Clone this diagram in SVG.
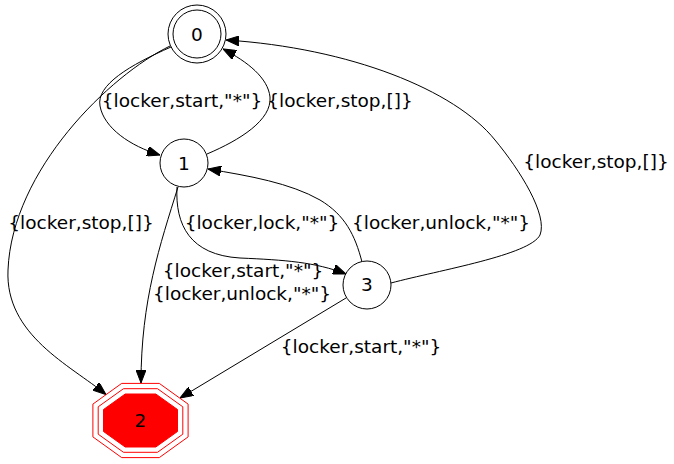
<svg xmlns="http://www.w3.org/2000/svg" width="674" height="464" viewBox="0 0 674 464">
<defs>
<style>
text{font-family:"DejaVu Sans","Liberation Sans",sans-serif;font-size:18.5px;fill:#000;text-anchor:middle}
.n{fill:#fff;stroke:#000;stroke-width:1}
.e{fill:none;stroke:#000;stroke-width:1}
.oct{fill:none;stroke:#ff0000;stroke-width:1}
</style>
<marker id="ah" viewBox="0 0 13 10" refX="13" refY="5" markerWidth="13" markerHeight="10" markerUnits="userSpaceOnUse" orient="auto">
<path d="M0,0 L13,5 L0,10 z" fill="#000" stroke="#000" stroke-width="1"/>
</marker>
</defs>
<rect width="674" height="464" fill="#fff"/>
<g id="edges">
<path class="e" marker-end="url(#ah)" d="M171,47 C130,65 96,85 100,106 C104,128 130,146 160,155"/>
<path class="e" marker-end="url(#ah)" d="M170,46 C110,75 12,170 8,270 C5,335 70,365 106,394.5"/>
<path class="e" marker-end="url(#ah)" d="M207,154 C240,140 272,120 270,97 C268,78 248,62 223,49"/>
<path class="e" marker-end="url(#ah)" d="M177,187 C175,225 190,255 240,258 C285,260 315,262 346,274"/>
<path class="e" marker-end="url(#ah)" d="M362,262 C355,235 345,215 320,200 C290,183 250,176 208,169"/>
<path class="e" marker-end="url(#ah)" d="M391,283 C440,270 530,255 540,235 C548,215 520,170 495,140 C455,90 350,48 226,40"/>
<path class="e" marker-end="url(#ah)" d="M178,187 C160,245 141,300 141,383"/>
<path class="e" marker-end="url(#ah)" d="M346,298 L180,398"/>
<text x="182" y="107">{locker,start,"*"}</text>
<text x="340" y="107">{locker,stop,[]}</text>
<text x="81" y="229">{locker,stop,[]}</text>
<text x="262" y="229">{locker,lock,"*"}</text>
<text x="441" y="229">{locker,unlock,"*"}</text>
<text x="596" y="168">{locker,stop,[]}</text>
<text x="243" y="277">{locker,start,"*"}</text>
<text x="242" y="300">{locker,unlock,"*"}</text>
<text x="361" y="353">{locker,start,"*"}</text>
</g>
<g id="node0">
<circle class="n" cx="197" cy="34" r="29"/>
<circle class="n" cx="197" cy="34" r="24"/>
<text x="197" y="41">0</text>
</g>
<g id="node1">
<circle class="n" cx="184" cy="163" r="24"/>
<text x="184" y="170">1</text>
</g>
<g id="node3">
<circle class="n" cx="367" cy="285" r="24"/>
<text x="367" y="291">3</text>
</g>
<g id="node2">
<polygon class="oct" points="188.1,436.9 159.3,457.6 121.7,457.6 92.9,436.9 92.9,404.1 121.7,383.4 159.3,383.4 188.1,404.1"/>
<polygon class="oct" points="182.8,434.2 157.5,452.3 123.5,452.3 98.2,434.2 98.2,406.8 123.5,388.7 157.5,388.7 182.8,406.8"/>
<polygon points="177.5,431.5 155.8,447 125.2,447 103.5,431.5 103.5,409.5 125.2,394 155.8,394 177.5,409.5" fill="#ff0000" stroke="#ff0000" stroke-width="1"/>
<text x="140.5" y="427">2</text>
</g>
</svg>
